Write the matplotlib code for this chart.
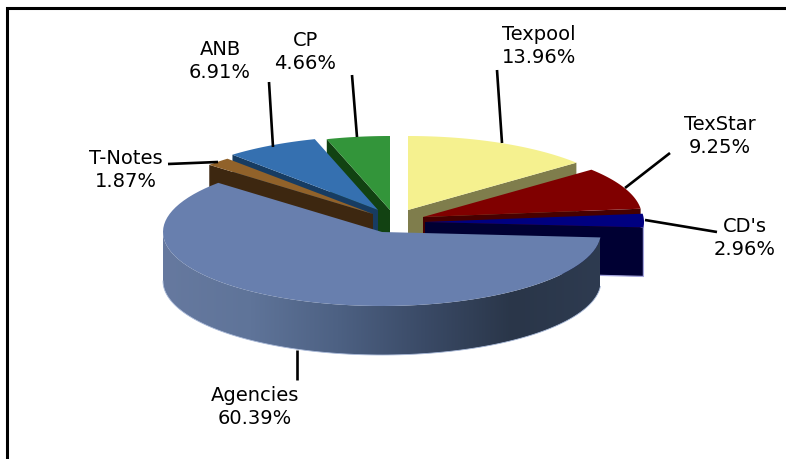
import numpy as np
import matplotlib
matplotlib.use('Agg')
from matplotlib import pyplot as plt
from matplotlib.colors import LinearSegmentedColormap
from matplotlib.patches import Polygon

labels = ['Texpool', 'TexStar', "CD's", 'Agencies', 'T-Notes', 'ANB', 'CP']
values = [13.96, 9.25, 2.96, 60.39, 1.87, 6.91, 4.66]

top_colors = ['#f5f18f', '#800000', '#000080', '#687fae', '#91622a', '#3570b0', '#33953a']
side_colors = ['#7f7d4c', '#470000', '#000033', '#2c3a50', '#3d2710', '#173c62', '#124212']

# exploded slice apex in pixels
apex_x = [408, 423, 425, 382, 373, 378, 390]
apex_y = [210, 217, 222, 232, 214, 210, 210]

label_x = [539, 720, 745, 255, 126, 220, 305]
label_y = [46, 136, 238, 407, 170, 61, 52]
leader_start = [(497, 70), (670, 153), (717, 232), (297, 380), (168, 164), (269, 82), (352, 75)]
leader_end = [(502, 143), (625, 188), (645, 220), (297, 350), (218, 162), (273, 147), (357, 137)]

rx, ry, depth = 219, 74, 49

# slices go clockwise from twelve o'clock
edges = np.concatenate([[0], np.cumsum(values)]) / np.sum(values) * 360


def rim_point(i, theta):
    t = np.radians(theta)
    return apex_x[i] + rx * np.sin(t), apex_y[i] - ry * np.cos(t)


def top_face(i):
    th = np.linspace(edges[i], edges[i + 1], 80)
    x, y = rim_point(i, th)
    return np.column_stack([np.r_[apex_x[i], x], np.r_[apex_y[i], y]])


def radial_face(i, theta):
    x, y = rim_point(i, theta)
    ax0, ay0 = apex_x[i], apex_y[i]
    return [(ax0, ay0), (x, y), (x, y + depth), (ax0, ay0 + depth)]


def rim_face(i):
    a, b = max(edges[i], 90), min(edges[i + 1], 270)
    th = np.linspace(a, b, 120)
    x, y = rim_point(i, th)
    return np.column_stack([np.r_[x, x[::-1]], np.r_[y, (y + depth)[::-1]]]), x, y + depth


fig = plt.figure(figsize=(7.86, 4.59), dpi=100)
ax = fig.add_axes([0, 0, 1, 1])

# back slices first, front slice last
for i in [6, 5, 4, 0, 1, 2, 3]:
    if i in (4, 5, 6):
        ax.add_patch(Polygon(radial_face(i, edges[i]), color=side_colors[i], lw=0))
    elif i != 3:
        face = radial_face(i, edges[i + 1])
        ax.add_patch(Polygon(face, color=side_colors[i], lw=0))
        if i == 2:
            # pale fringe on the right and bottom of the dark wall
            ax.plot([face[1][0], face[2][0], face[3][0]], [face[1][1], face[2][1], face[3][1]],
                    color='#a4a4dc', lw=0.9, zorder=1)

    if i == 3:
        # shaded outer wall of the big slice
        wall, low_x, low_y = rim_face(i)
        rim = Polygon(wall, fc='none', ec='none')
        ax.add_patch(rim)
        cmap = LinearSegmentedColormap.from_list(
            'wall', ['#66799f', '#5f7499', '#4d6183', '#3a4a66', '#2a3649', '#2e3b50'])
        im = ax.imshow(np.linspace(0, 1, 256).reshape(1, -1), cmap=cmap, aspect='auto',
                       extent=[163, 600, 360, 230], zorder=2)
        im.set_clip_path(rim)
        ax.plot(low_x, low_y, color='#a9b9d8', lw=0.6, zorder=2)
    ax.add_patch(Polygon(top_face(i), color=top_colors[i], lw=0, zorder=3 if i == 3 else 1))

for s, e in zip(leader_start, leader_end):
    ax.plot([s[0], e[0]], [s[1], e[1]], color='black', lw=1.9, zorder=4, solid_capstyle='butt')

for i in range(len(labels)):
    ax.text(label_x[i], label_y[i], '%s\n%.2f%%' % (labels[i], values[i]), ha='center', va='center',
            fontsize=14, family='DejaVu Sans', color='black', linespacing=1.27, zorder=5)

# chart frame, open on the right and at the bottom
ax.plot([7, 7, 786], [459, 8, 8], color='black', lw=2.2, zorder=6, solid_joinstyle='miter')

ax.set_xlim(0, 786)
ax.set_ylim(459, 0)
ax.axis('off')
fig.savefig('out.png', dpi=100)
